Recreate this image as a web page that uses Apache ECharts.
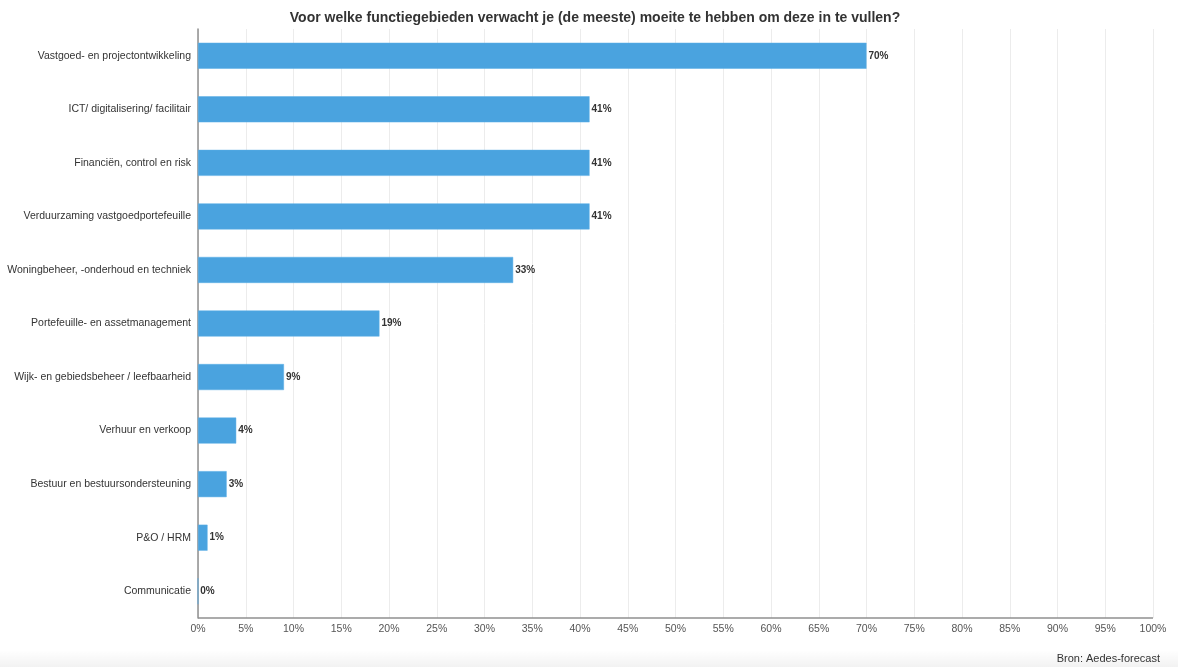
<!DOCTYPE html>
<html>
<head>
<meta charset="utf-8">
<script src="https://cdn.jsdelivr.net/npm/echarts@6/dist/echarts.min.js"></script>
<style>
  html, body { margin: 0; padding: 0; background: #fff; }
  #chart { width: 1178px; height: 667px; }
</style>
</head>
<body>
<div id="chart"></div>
<script>
// Functiegebieden, van boven naar beneden
const categories = [
  'Vastgoed- en projectontwikkeling',
  'ICT/ digitalisering/ facilitair',
  'Financiën, control en risk',
  'Verduurzaming vastgoedportefeuille',
  'Woningbeheer, -onderhoud en techniek',
  'Portefeuille- en assetmanagement',
  'Wijk- en gebiedsbeheer / leefbaarheid',
  'Verhuur en verkoop',
  'Bestuur en bestuursondersteuning',
  'P&O / HRM',
  'Communicatie'
];
// Percentage respondenten per functiegebied
const values = [70, 41, 41, 41, 33, 19, 9, 4, 3, 1, 0];

const titleText = 'Voor welke functiegebieden verwacht je (de meeste) moeite te hebben om deze in te vullen?';
const sourceText = 'Bron: Aedes-forecast';

const font = 'Helvetica, "Liberation Sans", Arial, sans-serif';

const chart = echarts.init(document.getElementById('chart'), null, { renderer: 'canvas' });
chart.setOption({
  animation: false,
  backgroundColor: '#ffffff',
  textStyle: { fontFamily: font },
  graphic: [{
    // soft page shadow along the bottom edge
    type: 'rect',
    silent: true,
    z: -1,
    shape: { x: 0, y: 650, width: 1178, height: 17 },
    style: {
      fill: new echarts.graphic.LinearGradient(0, 0, 0, 1, [
        { offset: 0, color: 'rgba(0,0,0,0)' },
        { offset: 1, color: 'rgba(0,0,0,0.05)' }
      ])
    }
  }],
  title: [{
    text: titleText,
    left: 590,
    textAlign: 'center',
    top: 6,
    textStyle: { fontSize: 14, fontWeight: 'bold', color: '#333', fontFamily: font }
  }, {
    text: sourceText,
    right: 13,
    top: 648,
    textStyle: { fontSize: 11, fontWeight: 'normal', color: '#333', fontFamily: font }
  }],
  grid: { left: 198, right: 25, top: 29, bottom: 49, containLabel: false },
  xAxis: {
    type: 'value',
    min: 0,
    max: 100,
    interval: 5,
    axisLine: { show: false },
    axisTick: { show: false },
    splitLine: { show: true, lineStyle: { color: '#ececec', width: 1 } },
    axisLabel: {
      formatter: '{value}%',
      fontSize: 10.5,
      color: '#555',
      margin: 6,
      fontFamily: font
    }
  },
  yAxis: {
    type: 'category',
    data: categories,
    inverse: true,
    axisLine: { show: true, lineStyle: { color: '#8f8f8f', width: 1.5 } },
    axisTick: { show: false },
    splitLine: { show: false },
    axisLabel: { fontSize: 10.5, color: '#333', margin: 7, fontFamily: font }
  },
  series: [{
    type: 'bar',
    data: values,
    barWidth: 26,
    itemStyle: { color: '#4aa3df', borderColor: '#5aaee6', borderWidth: 0.5 },
    label: {
      show: true,
      position: 'right',
      distance: 2,
      formatter: '{c}%',
      fontSize: 10,
      fontWeight: 'bold',
      color: '#333',
      fontFamily: font
    }
  }, {
    // bottom axis line
    type: 'line',
    data: [],
    markLine: {
      silent: true,
      symbol: 'none',
      label: { show: false },
      lineStyle: { color: '#8f8f8f', width: 1.5, type: 'solid' },
      data: [[{ coord: [0, 'Communicatie'], y: 618 }, { coord: [100, 'Communicatie'], y: 618 }]]
    }
  }]
});
</script>
</body>
</html>
